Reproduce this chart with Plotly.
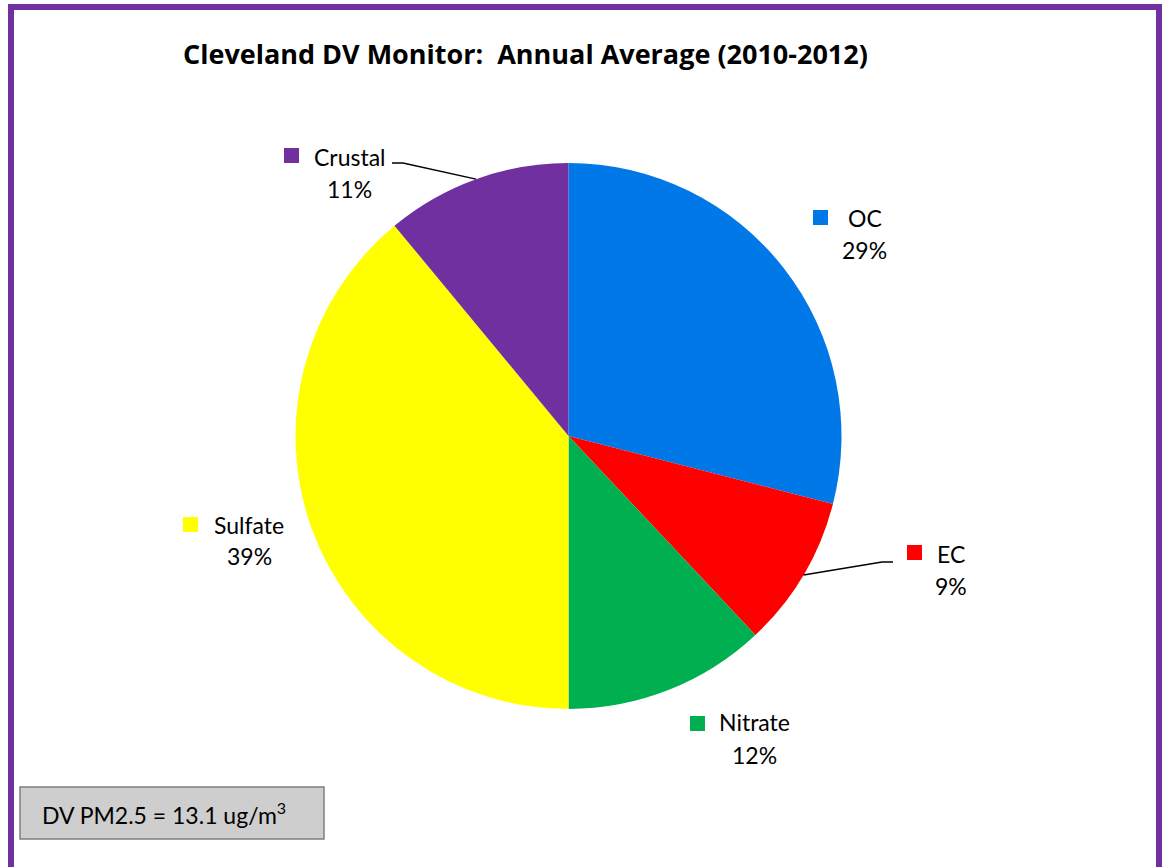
import math
import plotly.graph_objects as go

W, H = 1163, 867

# ---- data ----
categories = ["OC", "EC", "Nitrate", "Sulfate", "Crustal"]
values = [29, 9, 12, 39, 11]
colors = ["#0078E8", "#FF0000", "#00B050", "#FFFF00", "#7030A0"]
title_text = "Cleveland DV Monitor:  Annual Average (2010-2012)"
note_text = "DV PM2.5 = 13.1 ug/m<sup>3</sup>"

# ---- layout helpers (pixel -> paper) ----
def px(x):
    return x / W

def py(y):
    return 1 - y / H

CX, CY, R = 568.5, 436.0, 273.0
FONT = "Lato"
LBL_SIZE = 23

fig = go.Figure()
fig.add_trace(go.Pie(
    labels=categories,
    values=values,
    marker=dict(colors=colors, line=dict(width=0)),
    sort=False,
    direction="clockwise",
    rotation=0,
    textinfo="none",
    hoverinfo="label+percent",
    showlegend=False,
    domain=dict(x=[px(CX - R), px(CX + R)], y=[py(CY + R), py(CY - R)]),
))

# label placement (text centre x, first-line y, second-line y, key left x, key top y)
label_pos = {
    "OC":      (864.5, 218, 250, 813, 210),
    "EC":      (951.0, 554, 586, 907, 545),
    "Nitrate": (754.5, 722, 755, 690, 716),
    "Sulfate": (249.0, 525, 556, 183, 517),
    "Crustal": (349.5, 157, 189, 284, 148),
}

shapes = []
annotations = []
total = sum(values)
for cat, val, col in zip(categories, values, colors):
    tx, y1, y2, kx, ky = label_pos[cat]
    pct = round(100 * val / total)
    annotations.append(dict(x=px(tx), y=py(y1), xref="paper", yref="paper",
                            text=cat, showarrow=False, xanchor="center", yanchor="middle",
                            font=dict(family=FONT, size=LBL_SIZE, color="#000000")))
    annotations.append(dict(x=px(tx), y=py(y2), xref="paper", yref="paper",
                            text=f"{pct}%", showarrow=False, xanchor="center", yanchor="middle",
                            font=dict(family=FONT, size=LBL_SIZE, color="#000000")))
    shapes.append(dict(type="rect", xref="paper", yref="paper",
                       x0=px(kx), x1=px(kx + 15), y0=py(ky + 15), y1=py(ky),
                       fillcolor=col, line=dict(width=0)))

# leader lines from slice mid-angle on the rim to the label
cum = 0
mid_angles = {}
for cat, val in zip(categories, values):
    mid_angles[cat] = 360 * (cum + val / 2) / total
    cum += val

leaders = {"Crustal": [(403, 163), (392, 163)], "EC": [(882, 562), (893, 562)]}
for cat, pts in leaders.items():
    a = math.radians(mid_angles[cat])
    ex, ey = CX + R * math.sin(a), CY - R * math.cos(a)
    path_pts = [(ex, ey)] + pts
    path = "M " + " L ".join(f"{px(x)},{py(y)}" for x, y in path_pts)
    shapes.append(dict(type="path", xref="paper", yref="paper", path=path,
                       line=dict(color="#000000", width=1.5)))

# note box
shapes.append(dict(type="rect", xref="paper", yref="paper",
                   x0=px(20), x1=px(324), y0=py(839), y1=py(787),
                   fillcolor="#CECECE", line=dict(color="#7F7F7F", width=1.5)))
annotations.append(dict(x=px(40), y=py(813), xref="paper", yref="paper",
                        text=note_text, showarrow=False, xanchor="left", yanchor="middle",
                        font=dict(family=FONT, size=LBL_SIZE, color="#000000")))

# title
annotations.append(dict(x=px(525), y=py(53), xref="paper", yref="paper",
                        text=f"<b>{title_text}</b>", showarrow=False,
                        xanchor="center", yanchor="middle",
                        font=dict(family="Open Sans", size=27, color="#000000")))

# purple frame
shapes.append(dict(type="rect", xref="paper", yref="paper",
                   x0=px(11), x1=px(1159), y0=py(870), y1=py(7),
                   fillcolor="rgba(0,0,0,0)", line=dict(color="#7030A0", width=6)))

fig.update_layout(
    width=W, height=H,
    margin=dict(l=0, r=0, t=0, b=0),
    paper_bgcolor="#FFFFFF",
    plot_bgcolor="#FFFFFF",
    shapes=shapes,
    annotations=annotations,
)

fig.write_html("out.html")
